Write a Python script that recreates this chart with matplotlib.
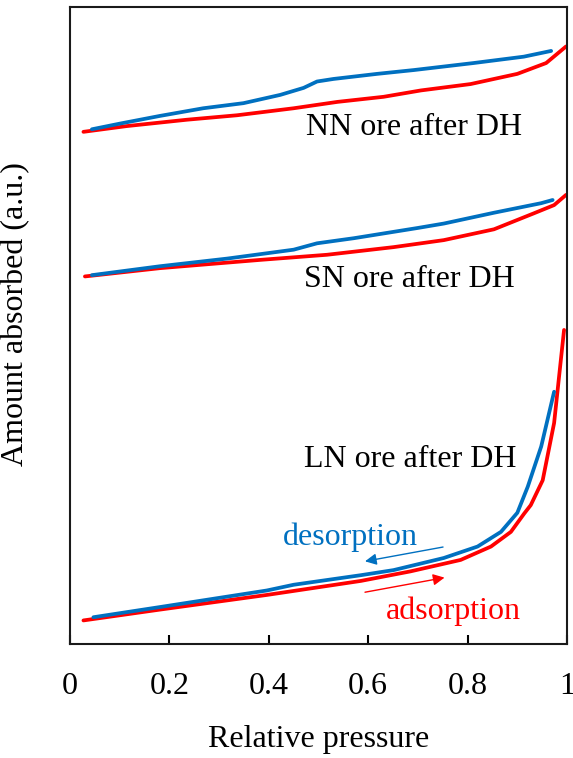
import matplotlib
matplotlib.use("Agg")
import matplotlib.pyplot as plt

plt.rcParams['font.family'] = ['Liberation Serif', 'DejaVu Serif']

BLUE = '#0070C0'
RED = '#FF0000'

# isotherms, offset vertically per sample (a.u.)
nn_ads_p = [0.027, 0.114, 0.235, 0.336, 0.450, 0.538, 0.631, 0.706, 0.806, 0.900, 0.958, 0.998]
nn_ads_v = [80.4, 81.3, 82.3, 83.0, 84.1, 85.1, 85.9, 86.9, 87.9, 89.5, 91.2, 93.8]
nn_des_p = [0.044, 0.101, 0.181, 0.268, 0.349, 0.423, 0.470, 0.497, 0.530, 0.618, 0.692, 0.812, 0.913, 0.968]
nn_des_v = [80.8, 81.7, 82.9, 84.1, 84.9, 86.2, 87.3, 88.3, 88.7, 89.5, 90.1, 91.2, 92.2, 93.1]

sn_ads_p = [0.030, 0.181, 0.383, 0.517, 0.651, 0.752, 0.853, 0.933, 0.974, 0.998]
sn_ads_v = [57.7, 59.0, 60.3, 61.1, 62.3, 63.4, 65.1, 67.6, 68.9, 70.5]
sn_des_p = [0.044, 0.181, 0.316, 0.450, 0.497, 0.571, 0.699, 0.752, 0.853, 0.948, 0.971]
sn_des_v = [57.9, 59.3, 60.5, 61.9, 62.9, 63.7, 65.3, 66.0, 67.7, 69.2, 69.7]

ln_ads_p = [0.027, 0.181, 0.396, 0.585, 0.685, 0.786, 0.847, 0.887, 0.914, 0.927, 0.951, 0.974, 0.994]
ln_ads_v = [3.7, 5.4, 7.7, 9.9, 11.4, 13.2, 15.3, 17.6, 20.5, 21.8, 25.7, 34.7, 49.3]
ln_des_p = [0.047, 0.181, 0.396, 0.450, 0.585, 0.651, 0.752, 0.820, 0.867, 0.900, 0.921, 0.948, 0.974]
ln_des_v = [4.2, 5.8, 8.4, 9.3, 10.8, 11.6, 13.5, 15.3, 17.6, 20.6, 24.7, 31.0, 39.6]

xticks = [0, 0.2, 0.4, 0.6, 0.8, 1]
xticklabels = ['0', '0.2', '0.4', '0.6', '0.8', '1']

fig = plt.figure(figsize=(5.73, 7.58), dpi=100)
ax = fig.add_axes([0.1222, 0.1504, 0.8674, 0.8404])

for p, v in [(nn_ads_p, nn_ads_v), (sn_ads_p, sn_ads_v), (ln_ads_p, ln_ads_v)]:
    ax.plot(p, v, color=RED, lw=2.7, solid_capstyle='round', solid_joinstyle='round')
for p, v in [(nn_des_p, nn_des_v), (sn_des_p, sn_des_v), (ln_des_p, ln_des_v)]:
    ax.plot(p, v, color=BLUE, lw=2.7, solid_capstyle='round', solid_joinstyle='round')

ax.text(0.474, 79.9, 'NN ore after DH', fontsize=23, va='baseline')
ax.text(0.470, 56.0, 'SN ore after DH', fontsize=23, va='baseline')
ax.text(0.470, 27.8, 'LN ore after DH', fontsize=23, va='baseline')

ax.text(0.429, 15.5, 'desorption', fontsize=23, color=BLUE, va='baseline')
ax.text(0.635, 4.0, 'adsorption', fontsize=23, color=RED, va='baseline')

ax.annotate('', xy=(0.588, 12.9), xytext=(0.756, 15.3),
            arrowprops=dict(arrowstyle='-|>', color=BLUE, lw=1, mutation_scale=17))
ax.annotate('', xy=(0.759, 10.5), xytext=(0.588, 8.05),
            arrowprops=dict(arrowstyle='-|>', color=RED, lw=1, mutation_scale=17))

ax.set_xlim(0, 1)
ax.set_ylim(0, 100)
ax.set_xticks(xticks)
ax.set_xticklabels(xticklabels)
ax.set_yticks([])
ax.tick_params(axis='x', direction='in', length=6.5, width=1.5, pad=20, labelsize=23)
for s in ax.spines.values():
    s.set_linewidth(1.5)
    s.set_color('#1a1a1a')

ax.set_xlabel('Relative pressure', fontsize=23)
ax.xaxis.set_label_coords(0.5, -0.127)
ax.set_ylabel('Amount absorbed (a.u.)', fontsize=23)
ax.yaxis.set_label_coords(-0.08, 0.518)

fig.savefig('out.png', dpi=100)
